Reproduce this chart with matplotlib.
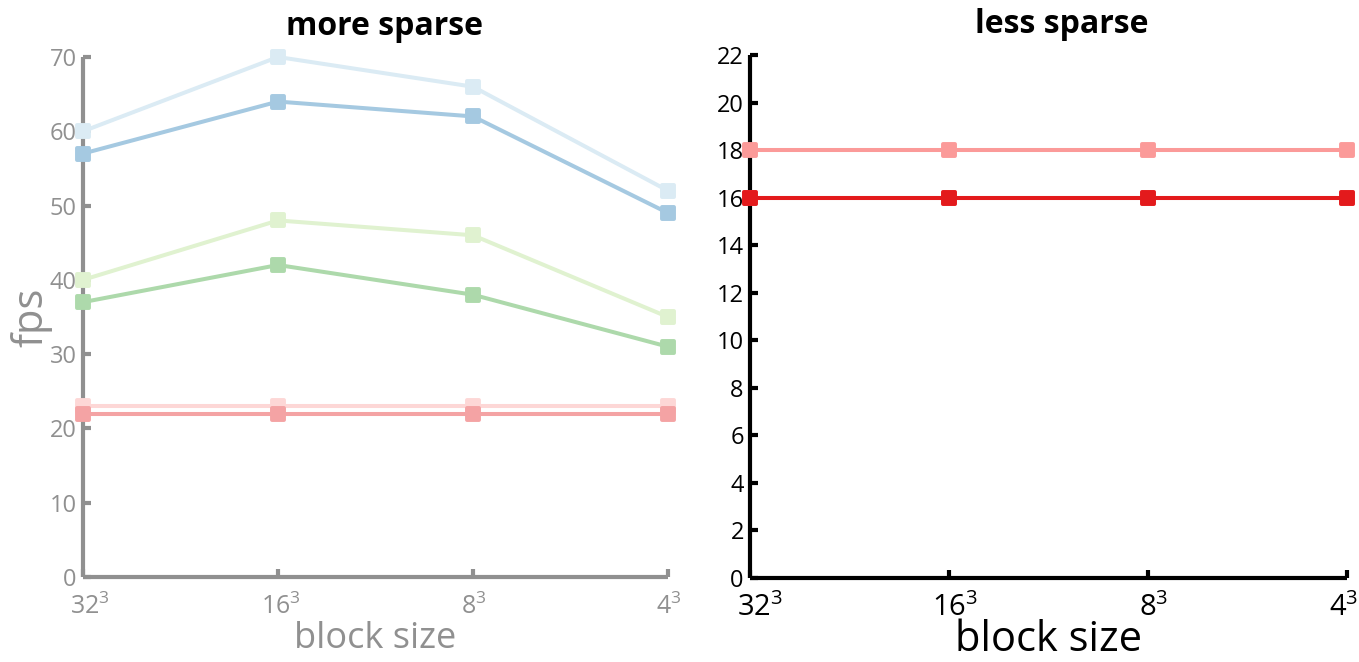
import matplotlib
matplotlib.use("Agg")
import matplotlib.pyplot as plt
import matplotlib.transforms as mtransforms
from matplotlib.markers import MarkerStyle
from matplotlib.colors import to_rgb

plt.rcParams['font.family'] = ['Open Sans', 'DejaVu Sans']
plt.rcParams['mathtext.fontset'] = 'custom'
plt.rcParams['mathtext.rm'] = 'Open Sans'
plt.rcParams['mathtext.it'] = 'Open Sans:italic'
plt.rcParams['mathtext.bf'] = 'Open Sans:bold'

# block sizes (x categories)
block_sizes = [32, 16, 8, 4]
x_labels = [r'$\mathregular{%d^3}$' % b for b in block_sizes]

# "more sparse" scene, fps per block size
sparse_blue_light = [60, 70, 66, 52]
sparse_blue = [57, 64, 62, 49]
sparse_green_light = [40, 48, 46, 35]
sparse_green = [37, 42, 38, 31]
sparse_red_light = [23, 23, 23, 23]
sparse_red = [22, 22, 22, 22]

# "less sparse" scene, fps per block size
dense_red_light = [18, 18, 18, 18]
dense_red_under = [16, 16, 16, 16]
dense_red = [16, 16, 16, 16]

PAIRED = {
    'blue_light': '#a6cee3', 'blue': '#1f78b4',
    'green_light': '#b2df8a', 'green': '#33a02c',
    'red_light': '#fb9a99', 'red': '#e31a1c',
}


def faded(color, amount=0.4):
    r, g, b = to_rgb(color)
    return (1 - amount * (1 - r), 1 - amount * (1 - g), 1 - amount * (1 - b))


fig = plt.figure(figsize=(13.59, 6.62), dpi=100)
ax1 = fig.add_axes([83 / 1359, 1 - 577 / 662, (668 - 83) / 1359, (577 - 57) / 662])
ax2 = fig.add_axes([750 / 1359, 1 - 578 / 662, (1347 - 750) / 1359, (578 - 55) / 662])

xs = list(range(len(block_sizes)))
mk = MarkerStyle('s', joinstyle='round')


def draw(ax, ys, color):
    ax.plot(xs, ys, color=color, lw=2.9, marker=mk, ms=8.5, mec=color,
            mew=2.8, mfc=color, clip_on=False, solid_capstyle='round', zorder=3)


draw(ax1, sparse_blue_light, faded(PAIRED['blue_light']))
draw(ax1, sparse_blue, faded(PAIRED['blue']))
draw(ax1, sparse_green_light, faded(PAIRED['green_light']))
draw(ax1, sparse_green, faded(PAIRED['green']))
draw(ax1, sparse_red_light, faded(PAIRED['red_light']))
draw(ax1, sparse_red, faded(PAIRED['red']))

draw(ax2, dense_red_light, PAIRED['red_light'])
draw(ax2, dense_red_under, PAIRED['red_light'])
draw(ax2, dense_red, PAIRED['red'])


def style(ax, color, yticks, ylim, ytick_fs, xtick_fs, xpad, xlab_fs, xlabpad,
          title, title_x, shifts):
    ax.set_xlim(0, 3)
    ax.set_ylim(*ylim)
    ax.set_xticks(xs)
    ax.set_xticklabels(x_labels)
    ax.set_yticks(yticks)
    for s in ('top', 'right'):
        ax.spines[s].set_visible(False)
    for s in ('left', 'bottom'):
        ax.spines[s].set_color(color)
        ax.spines[s].set_linewidth(3)
        ax.spines[s].set_capstyle('butt')
    ax.tick_params(direction='in', length=6, width=3, color=color,
                   labelcolor=color)
    ax.tick_params(axis='y', labelsize=ytick_fs, pad=4.5)
    ax.tick_params(axis='x', labelsize=xtick_fs, pad=xpad)
    for lab, dx in zip(ax.get_xticklabels(), shifts):
        shift = mtransforms.ScaledTranslation(dx / 100, 0, fig.dpi_scale_trans)
        lab.set_transform(lab.get_transform() + shift)
    ax.set_xlabel('block size', fontsize=xlab_fs, color=color, labelpad=xlabpad)
    ax.set_title(title, fontsize=23, fontweight='bold', color='black', pad=16,
                 x=title_x)


GRAY = '#909090'
style(ax1, GRAY, range(0, 71, 10), (0, 70), 17, 18, 12, 26, 1,
      'more sparse', 0.515, [7, 3, 1, 1])
ax1.set_ylabel('fps', fontsize=30, color=GRAY)
ax1.yaxis.set_label_coords(-0.052, 0.5)
style(ax2, 'black', range(0, 23, 2), (0, 22), 17, 21, 11, 30, -3,
      'less sparse', 0.523, [10, 6, 6, -3])

fig.savefig('out.png', dpi=100)
